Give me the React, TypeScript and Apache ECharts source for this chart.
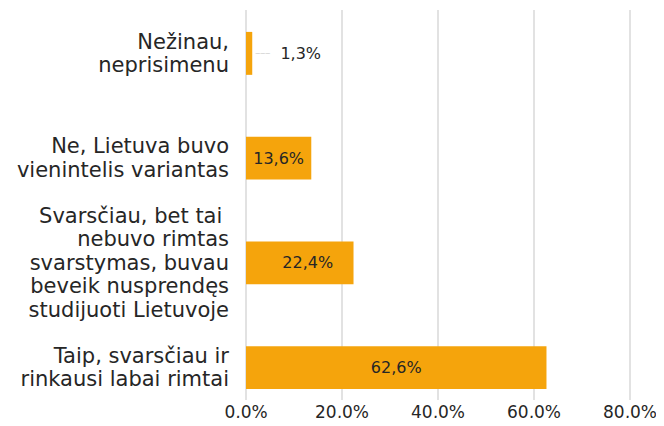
import React, { useEffect, useRef } from "react";
import * as echarts from "echarts";

const categories = [
  "Taip, svarsčiau ir\nrinkausi labai rimtai",
  "Svarsčiau, bet tai \nnebuvo rimtas\nsvarstymas, buvau\nbeveik nusprendęs\nstudijuoti Lietuvoje",
  "Ne, Lietuva buvo\nvienintelis variantas",
  "Nežinau,\nneprisimenu",
];
const values = [62.6, 22.4, 13.6, 1.3];
const axisMin = 0;
const axisMax = 80;
const axisInterval = 20;

const FONT = "DejaVu Sans";
const fmt = (v: number) => v.toFixed(1).replace(".", ",") + "%";

export default function App() {
  const ref = useRef<HTMLDivElement>(null);
  useEffect(() => {
    if (!ref.current) return;
    const chart = echarts.init(ref.current, undefined, { renderer: "svg" });
    chart.setOption({
      animation: false,
      textStyle: { fontFamily: FONT },
      grid: [
        { left: 246, right: 34, top: 1, bottom: 6 },
        { left: 246, right: 34, top: 10, bottom: 26 },
      ],
      xAxis: [
        { type: "value", gridIndex: 0, min: axisMin, max: axisMax, interval: axisInterval, show: false },
        {
          type: "value",
          gridIndex: 1,
          min: axisMin,
          max: axisMax,
          interval: axisInterval,
          axisLine: { show: false },
          axisTick: { show: false },
          splitLine: { show: true, lineStyle: { color: "#D9D9D9", width: 1.5 } },
          axisLabel: {
            formatter: (v: number) => fmt(v),
            color: "#262626",
            fontSize: 17,
            lineHeight: 17,
            fontFamily: FONT,
            margin: 3,
          },
        },
      ],
      yAxis: [
        {
          type: "category",
          gridIndex: 0,
          data: categories,
          axisLine: { show: false },
          axisTick: { show: false },
          axisLabel: {
            color: "#262626",
            fontSize: 21,
            lineHeight: 23.5,
            fontFamily: FONT,
            margin: 17,
            align: "right",
          },
        },
        { type: "value", gridIndex: 1, show: false, min: 0, max: 1 },
      ],
      series: [
        {
          type: "bar",
          xAxisIndex: 0,
          yAxisIndex: 0,
          barWidth: "41%",
          z: 3,
          itemStyle: { color: "#F5A40C" },
          data: values.map((v) => {
            if (v < 5) {
              return {
                value: v,
                label: {
                  show: true,
                  position: "right",
                  distance: 3,
                  formatter: () => "{l|———}  " + fmt(v),
                  rich: { l: { color: "#A6A6A6", fontSize: 5 } },
                },
              };
            }
            if (v > 20 && v < 30) {
              return { value: v, label: { offset: [8, 0] } };
            }
            return { value: v };
          }),
          label: {
            show: true,
            position: "inside",
            color: "#262626",
            fontSize: 16,
            fontFamily: FONT,
            formatter: (p: any) => fmt(p.value),
          },
        },
      ],
    });
    return () => chart.dispose();
  }, []);
  return <div ref={ref} style={{ width: 664, height: 426, margin: -8 }} />;
}
